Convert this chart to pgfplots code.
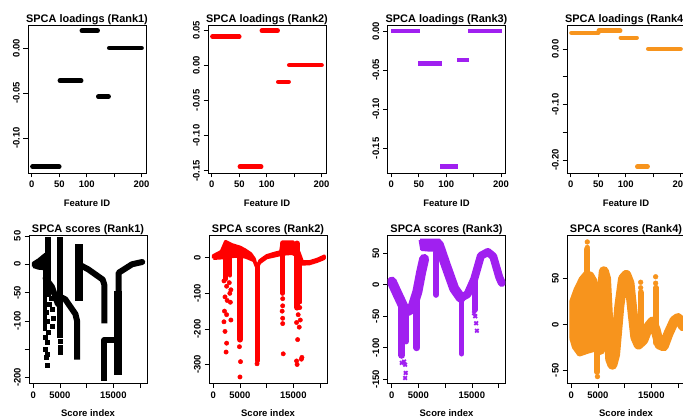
\documentclass[border=0pt]{standalone}
\usepackage{fontspec}
\setmainfont{Liberation Sans}
\usepackage{pgfplots}
\pgfplotsset{compat=1.18}
\definecolor{rred}{HTML}{FF0000}
\definecolor{rpurple}{HTML}{A020F0}
\definecolor{rorange}{HTML}{F7941D}
\pgfplotsset{
 rbase/.style={scale only axis, width=118bp, height=148bp, anchor=south west,
  scaled ticks=false,
  axis line style={line width=0.7bp}, every tick/.style={black, line width=0.7bp},
  tick align=outside, major tick length=4.5bp, tick pos=left,
  tick label style={font=\bfseries\fontsize{9.5}{11}\selectfont},
  label style={font=\bfseries\fontsize{9.5}{11}\selectfont},
  xticklabel style={anchor=base, yshift=-10.5bp},
  yticklabel style={xshift=-4bp, rotate=90, anchor=base},
  title style={font=\bfseries\fontsize{11}{13}\selectfont, at={(0.5,1)}, anchor=base, yshift=-3.5bp},
  xlabel style={at={(axis description cs:0.5,0)}, anchor=base, yshift=-33.5bp},
 },
 load/.style={rbase, xmin=-7, xmax=208, xtick={0,50,100,150,200}, xticklabels={0,50,100,,200}, xlabel={Feature ID}},
 score/.style={rbase, xmin=-800, xmax=21300, xtick={0,5000,10000,15000,20000}, xticklabels={0,5000,,15000,}, xlabel={Score index}},
 seg/.style={line width=4.5bp, line cap=round},
 band/.style={line join=round, line cap=round},
}
\begin{document}
\begin{tikzpicture}
\useasboundingbox (0,0) rectangle (683bp,419bp);
\begin{scope}
\clip (0,0) rectangle (683bp,419bp);
% ---------------- Rank1 loadings
\begin{axis}[load, at={(28bp,246bp)}, title={SPCA loadings (Rank1)}, ymin=-0.139, ymax=0.0256, ytick={-0.1,-0.05,0}, yticklabels={-0.10,-0.05,0.00}]
\addplot[black, seg] coordinates {(1,-0.132) (50,-0.132)};
\addplot[black, seg] coordinates {(51,-0.0363) (90,-0.0363)};
\addplot[black, seg] coordinates {(91,0.0193) (120,0.0193)};
\addplot[black, seg] coordinates {(121,-0.054) (140,-0.054)};
\addplot[black, seg] coordinates {(141,0) (200,0)};
\end{axis}
% ---------------- Rank2 loadings
\begin{axis}[load, at={(208bp,246bp)}, title={SPCA loadings (Rank2)}, ymin=-0.1533, ymax=0.0571, ytick={-0.15,-0.1,-0.05,0,0.05}, yticklabels={-0.15,-0.10,-0.05,0.00,0.05}]
\addplot[rred, seg] coordinates {(1,0.0405) (50,0.0405)};
\addplot[rred, seg] coordinates {(51,-0.1443) (90,-0.1443)};
\addplot[rred, seg] coordinates {(91,0.0491) (120,0.0491)};
\addplot[rred, seg] coordinates {(121,-0.0237) (140,-0.0237)};
\addplot[rred, seg] coordinates {(141,0) (200,0)};
\end{axis}
% ---------------- Rank3 loadings
\begin{axis}[load, at={(387.5bp,246bp)}, title={SPCA loadings (Rank3)}, ymin=-0.1816, ymax=0.0077, ytick={-0.15,-0.1,-0.05,0}, yticklabels={-0.15,-0.10,-0.05,0.00}]
\addplot[rpurple, line width=4.5bp, line cap=rect] coordinates {(3,0) (48,0)};
\addplot[rpurple, line width=4.5bp, line cap=rect] coordinates {(53,-0.0414) (88,-0.0414)};
\addplot[rpurple, line width=4.5bp, line cap=rect] coordinates {(93,-0.1735) (118,-0.1735)};
\addplot[rpurple, line width=4.5bp, line cap=rect] coordinates {(123,-0.037) (138,-0.037)};
\addplot[rpurple, line width=4.5bp, line cap=rect] coordinates {(143,0) (198,0)};
\end{axis}
% ---------------- Rank4 loadings
\begin{axis}[load, at={(567bp,246bp)}, title={SPCA loadings (Rank4)}, ymin=-0.2234, ymax=0.043, ytick={-0.2,-0.15,-0.1,-0.05,0}, yticklabels={-0.20,,-0.10,,0.00}]
\addplot[rorange, seg] coordinates {(1,0.029) (50,0.029)};
\addplot[rorange, seg] coordinates {(51,0.033) (90,0.033)};
\addplot[rorange, seg] coordinates {(91,0.020) (120,0.020)};
\addplot[rorange, seg] coordinates {(121,-0.212) (140,-0.212)};
\addplot[rorange, seg] coordinates {(141,0) (200,0)};
\end{axis}
% ---------------- Rank1 scores
\begin{axis}[score, at={(29bp,36bp)}, title={SPCA scores (Rank1)}, ymin=-209.7, ymax=51.7, ytick={-200,-150,-100,-50,0,50}, yticklabels={-200,,-100,-50,0,50}]
\addplot[black, fill=black, line width=3bp, line join=round] coordinates {(0,-4) (0,2) (1000,8) (2300,18) (2300,-8) (1000,-7) (0,-4)};
\addplot[black, line width=6bp, line cap=rect] coordinates {(2850,42) (2850,-52)};
\addplot[black, line width=4bp, line cap=rect] coordinates {(2150,-12) (2150,-115)};
\addplot[black, line width=6bp, band] coordinates {(2300,-25) (3500,-40) (4600,-70)};
\addplot[black, only marks, mark=square*, mark size=2bp] coordinates {(2200,-128) (2600,-138) (2300,-150) (2700,-158) (2450,-165) (2800,-120) (2600,-100) (2700,-178) (2400,-85) (2900,-70) (3300,-60) (3600,-80) (3800,-95) (3500,-110)};
\addplot[black, line width=6bp, line cap=rect] coordinates {(4950,43) (4950,-125)};
\addplot[black, only marks, mark=square*, mark size=2bp] coordinates {(4950,-135) (4950,-147) (4950,-156)};
\addplot[black, line width=6bp, line join=round, line cap=rect] coordinates {(5200,-58) (6000,-62) (7900,-88) (8200,-100) (8200,-163)};
\addplot[black, line width=8bp, line cap=rect] coordinates {(8500,29) (8500,-57)};
\addplot[black, line width=6bp, line join=round, line cap=rect] coordinates {(9100,-3) (10300,-9) (13000,-27) (13300,-36) (13300,-99)};
\addplot[black, line width=6bp, line join=round, line cap=rect] coordinates {(13300,-200) (13300,-134) (15300,-134)};
\addplot[black, line width=8bp, line cap=rect] coordinates {(15800,-55) (15800,-188)};
\addplot[black, line width=6bp, band] coordinates {(16000,-50) (16000,-15) (17000,-9) (18500,0) (20400,4)};
\end{axis}
% ---------------- Rank2 scores
\begin{axis}[score, at={(209bp,36bp)}, title={SPCA scores (Rank2)}, ymin=-352, ymax=64, ytick={-300,-200,-100,0}, yticklabels={-300,-200,-100,0}]
\addplot[rred, fill=rred, line width=3bp, line join=round] coordinates {(0,-2) (0,6) (1500,18) (2300,46) (3500,37) (5000,30) (6000,22) (7000,12) (7700,-3) (8100,-25) (8300,-25) (8700,-8) (10000,6) (11500,13) (12600,17) (12900,45) (14900,45) (15500,34) (16100,14) (16700,-11) (18000,-11) (19500,-4) (20800,5) (20800,-2) (19500,-10) (18000,-17) (16600,-18) (15700,5) (14800,12) (13000,10) (11500,5) (10000,0) (8700,-14) (8200,-30) (7600,-8) (6000,2) (4000,4) (2000,0) (0,-2)};
\addplot[rred, line width=5bp, band] coordinates {(8200,-20) (8200,-290)};
\addplot[rred, line width=5bp, band] coordinates {(2300,0) (2300,-60)};
\addplot[rred, line width=4bp, band] coordinates {(3100,20) (3100,-50)};
\addplot[rred, line width=6bp, band] coordinates {(5000,25) (5000,-230)};
\addplot[rred, line width=5bp, band] coordinates {(13000,40) (13000,-100)};
\addplot[rred, line width=6bp, band] coordinates {(15700,40) (15700,-140)};
\addplot[rred, line width=4bp, band] coordinates {(16300,-15) (16300,-125)};
\addplot[rred, only marks, mark=*, mark size=2.2bp] coordinates {(2000,-65) (2500,-80) (2200,-110) (2600,-120) (2100,-150) (2500,-160) (2000,-180) (2200,-207) (2500,-240) (2400,-265) (3000,-70) (3300,-90) (3100,-100) (3200,-125) (3300,-175) (4900,-250) (5100,-292) (5000,-335) (8200,-298) (13000,-115) (13000,-135) (12900,-150) (13000,-170) (13000,-185) (13100,-270) (15900,-160) (16300,-175) (15600,-182) (16100,-195) (15800,-230) (15600,-290) (15700,-300) (16600,-280) (16500,-285) (16200,-140)};
\end{axis}
% ---------------- Rank3 scores
\begin{axis}[score, at={(387.5bp,36bp)}, title={SPCA scores (Rank3)}, ymin=-156, ymax=79, ytick={-150,-100,-50,0,50}, yticklabels={-150,-100,-50,0,50}]
\addplot[rpurple, line width=10bp, band] coordinates {(0,5) (1250,-18) (2300,-37) (2900,-42) (3800,-38) (4800,-11) (5500,20) (6060,41)};
\addplot[rpurple, fill=rpurple, line width=3bp, line join=round] coordinates {(5300,71) (8900,71) (9200,60) (8800,55) (7000,55) (5600,56) (5300,71)};
\addplot[rpurple, line width=10bp, band] coordinates {(8800,64) (10130,31) (11690,-6) (12940,-21)};
\addplot[rpurple, line width=8bp, band] coordinates {(12940,-21) (14190,-15) (15440,9) (16690,46) (18000,52) (19000,45) (20130,12) (20600,3)};
\addplot[rpurple, line width=6bp, band] coordinates {(8300,52) (8300,-16)};
\addplot[rpurple, line width=7bp, band] coordinates {(1900,-35) (1900,-112)};
\addplot[rpurple, line width=6bp, band] coordinates {(2700,-40) (2700,-90)};
\addplot[rpurple, line width=7bp, band] coordinates {(4700,-10) (4700,-100)};
\addplot[rpurple, line width=5bp, band] coordinates {(13100,-20) (13100,-110)};
\addplot[rpurple, line width=6bp, band] coordinates {(15500,5) (15500,-40)};
\addplot[rpurple, only marks, mark=x, mark size=2.5bp, line width=1.8bp] coordinates {(1880,-124) (2500,-127) (2600,-140) (2500,-148) (2300,-122) (15630,-50) (15950,-73) (15800,-61) (15400,-45)};
\end{axis}
% ---------------- Rank4 scores
\begin{axis}[score, at={(567bp,36bp)}, title={SPCA scores (Rank4)}, ymin=-64, ymax=97.6, ytick={-50,0,50}, yticklabels={-50,0,50}]
\addplot[rorange, fill=rorange, line width=4bp, line join=round] coordinates {(0,-15) (0,25) (800,38) (1800,50) (2800,57) (3800,55) (4500,48) (5000,35) (5000,-20) (4200,-28) (3000,-30) (1500,-33) (500,-25) (0,-15)};
\addplot[rorange, line width=6bp, band] coordinates {(3000,55) (3000,82)};
\addplot[rorange, line width=6bp, band] coordinates {(4900,-20) (4900,-52)};
\addplot[rorange, line width=10bp, band] coordinates {(5400,-28) (5600,30) (6100,58) (6500,50) (6900,5) (7300,-38) (7700,-44) (8200,-33) (9000,20) (9700,50) (10300,54) (10900,45) (11500,12) (12000,-14) (12600,-22) (13500,-17) (14500,-2) (15200,3) (15800,-6) (16500,-22) (17300,-24) (18200,-10) (19300,4) (20000,7) (20600,2) (20900,-2)};
\addplot[rorange, line width=6bp, band] coordinates {(13000,-15) (13000,35)};
\addplot[rorange, line width=6bp, band] coordinates {(15800,-20) (15800,40)};
\addplot[rorange, only marks, mark=*, mark size=2.4bp] coordinates {(3000,90) (3000,84) (3000,76) (3000,68) (4900,-57) (13000,46) (13000,40) (13000,32) (13000,24) (15800,52) (15800,45) (15800,36) (15800,28)};
\end{axis}
\end{scope}
\end{tikzpicture}
\end{document}
